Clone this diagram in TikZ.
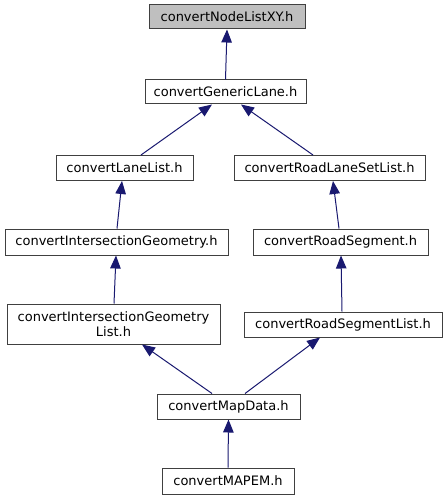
\documentclass[tikz,border=0pt]{standalone}
\usepackage{fontspec}
\setmainfont{DejaVu Sans}
\usetikzlibrary{arrows.meta}
\definecolor{edgecol}{HTML}{191970}
\definecolor{boxline}{HTML}{404040}
\definecolor{topfill}{HTML}{BFBFBF}
\begin{document}
\begin{tikzpicture}[x=1pt,y=-1pt,
  box/.style={draw=boxline,line width=1pt,fill=white,rectangle,inner sep=0pt,align=center,
    font=\fontsize{13}{14.5}\selectfont},
  dep/.style={draw=edgecol,line width=1pt,-{Triangle[length=13pt,width=10.5pt]}}]
\useasboundingbox[fill=white] (0,0) rectangle (447,500);
\node[box,fill=topfill,minimum width=156pt,minimum height=24pt] (n1) at (227,17) {convertNodeListXY.h};
\node[box,minimum width=161pt,minimum height=24pt] (n2) at (225.5,92) {convertGenericLane.h};
\node[box,minimum width=137pt,minimum height=25pt] (n3) at (124.5,168) {convertLaneList.h};
\node[box,minimum width=191pt,minimum height=25pt] (n4) at (329.5,168) {convertRoadLaneSetList.h};
\node[box,minimum width=223pt,minimum height=26pt] (n5) at (116.5,242) {convertIntersectionGeometry.h};
\node[box,minimum width=175pt,minimum height=26pt] (n6) at (340.5,242) {convertRoadSegment.h};
\node[box,minimum width=213pt,minimum height=40pt] (n7) at (113.5,324) {convertIntersectionGeometry\\List.h};
\node[box,minimum width=198pt,minimum height=25pt] (n8) at (343,324.5) {convertRoadSegmentList.h};
\node[box,minimum width=143pt,minimum height=25pt] (n9) at (228.5,406.5) {convertMapData.h};
\node[box,minimum width=132pt,minimum height=26pt] (n10) at (228,481) {convertMAPEM.h};
\draw[dep] (n2.north) -- (n1.south);
\draw[dep] ([xshift=16.5pt]n3.north) -- ([xshift=-13.5pt]n2.south);
\draw[dep] ([xshift=-16.5pt]n4.north) -- ([xshift=15.5pt]n2.south);
\draw[dep] ([xshift=0.5pt]n5.north) -- ([xshift=-2.5pt]n3.south);
\draw[dep] ([xshift=-1.5pt]n6.north) -- ([xshift=3.5pt]n4.south);
\draw[dep] ([xshift=0.5pt]n7.north) -- ([xshift=-0.5pt]n5.south);
\draw[dep] ([xshift=-1pt]n8.north) -- ([xshift=0.5pt]n6.south);
\draw[dep] ([xshift=-16.5pt]n9.north) -- ([xshift=28.5pt]n7.south);
\draw[dep] ([xshift=16.5pt]n9.north) -- ([xshift=-23pt]n8.south);
\draw[dep] (n10.north) -- (n9.south);
\end{tikzpicture}
\end{document}
